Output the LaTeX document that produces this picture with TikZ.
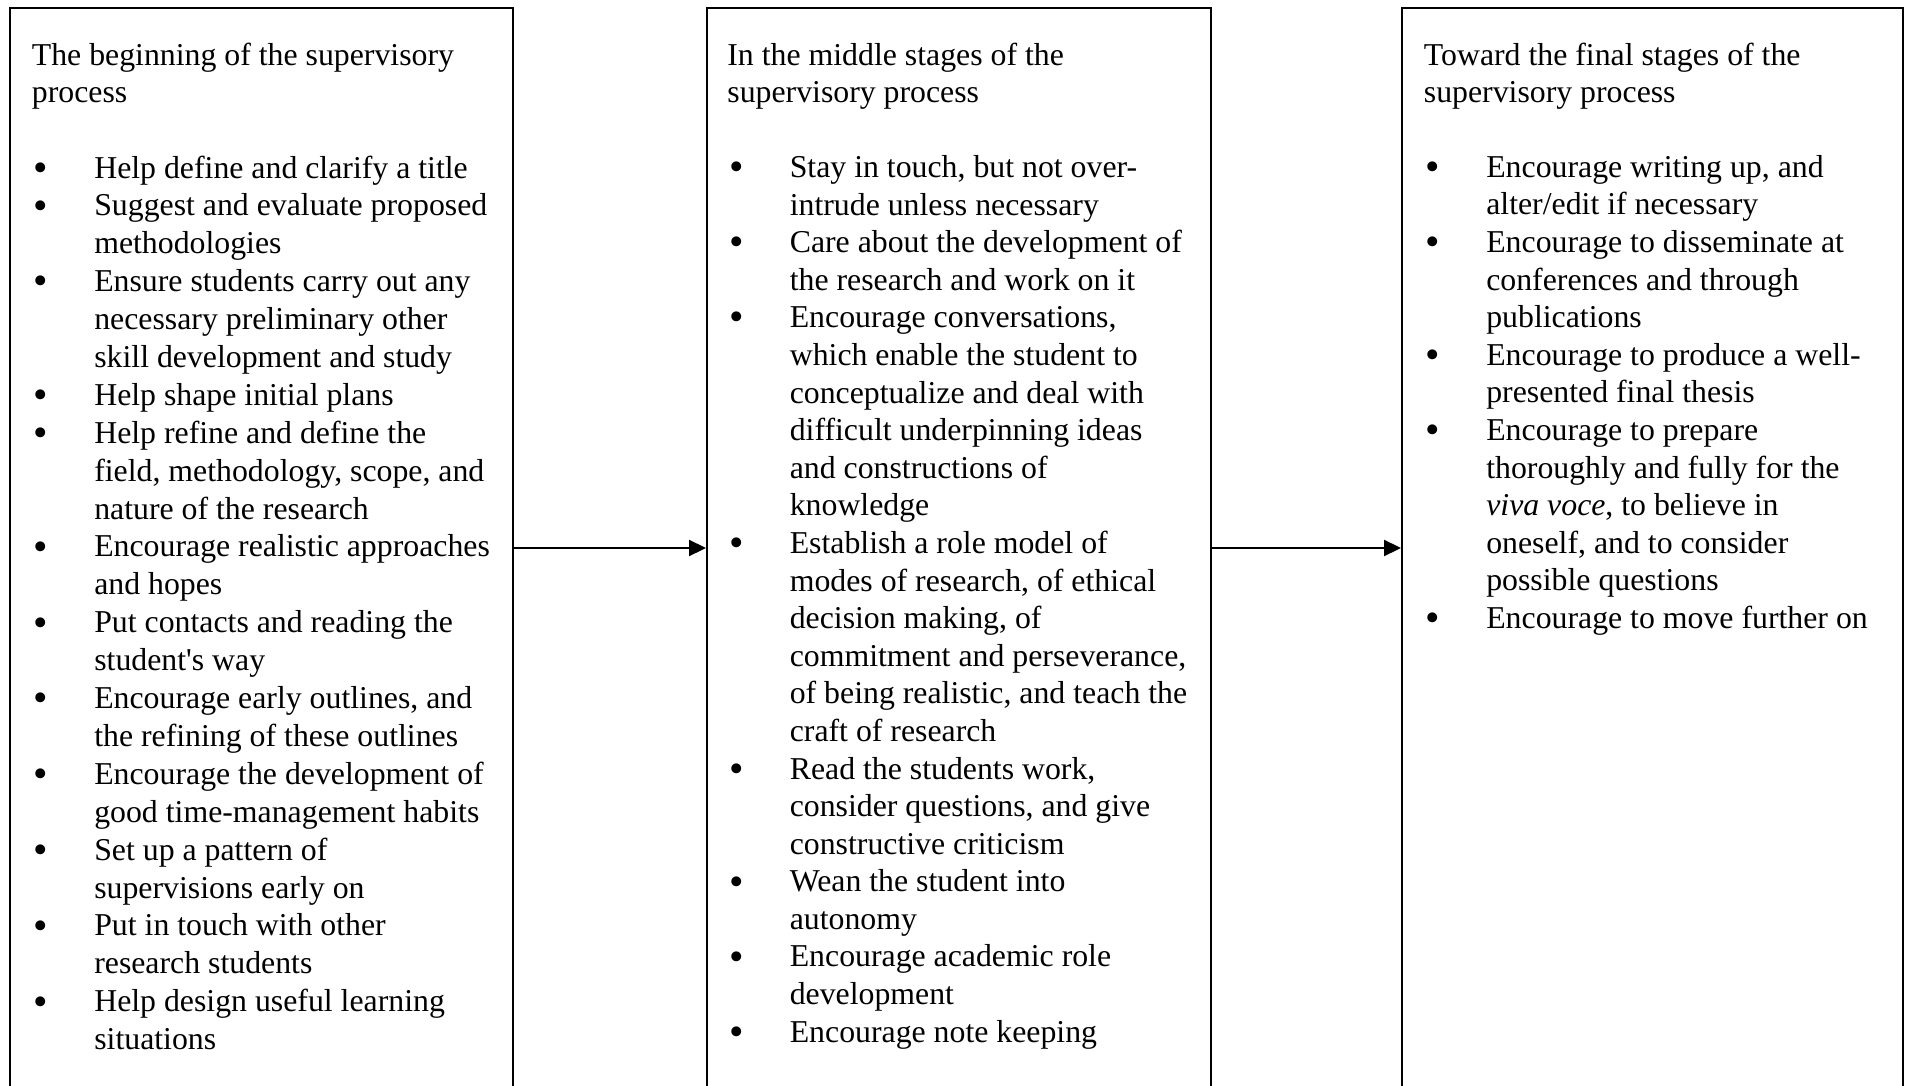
\documentclass[tikz,border=0pt]{standalone}
\usepackage{fontspec}
\usepackage{graphicx}
\setmainfont{Liberation Serif}
\newfontfamily\rawserif{Liberation Serif}
\usetikzlibrary{arrows.meta}
\newcommand{\bl}{\makebox[31.2pt][l]{\hspace{0.8pt}\raisebox{-1.6pt}{\scalebox{1.3}{\textbullet}}}}
\newcommand{\cl}{\hspace*{31.2pt}}
\newcommand{\apos}{{\rawserif'}}
\tikzset{
  stagebox/.style={draw=black, line width=1pt, inner sep=0pt},
  stagetxt/.style={anchor=north west, inner sep=0pt, align=left, text=black},
  flow/.style={-{Triangle[length=8.5pt,width=8pt]}, line width=1.1pt}
}
\begin{document}
\begin{tikzpicture}[x=0.5pt,y=-0.5pt]
\clip (0,0) rectangle (1907,1086);
\fill[white] (0,0) rectangle (1907,1086);
% boxes (bottom edge lies outside the picture)
\node[stagebox, minimum width=503pt*0.5, minimum height=1080pt*0.5] (b1) at (261.5,548) {};
\node[stagebox, minimum width=504pt*0.5, minimum height=1080pt*0.5] (b2) at (959,548) {};
\node[stagebox, minimum width=501pt*0.5, minimum height=1080pt*0.5] (b3) at (1652.5,548) {};
% texts
\node[stagetxt, font=\fontsize{15.9}{18.95}\selectfont] (t1) at (31.5,43) {%
The beginning of the supervisory\\[-0.6pt]
process\\[18.8pt]
\bl Help define and clarify a title\\
\bl Suggest and evaluate proposed\\
\cl methodologies\\
\bl Ensure students carry out any\\
\cl necessary preliminary other\\
\cl skill development and study\\
\bl Help shape initial plans\\
\bl Help refine and define the\\
\cl field, methodology, scope, and\\
\cl nature of the research\\
\bl Encourage realistic approaches\\
\cl and hopes\\
\bl Put contacts and reading the\\
\cl student\apos s way\\
\bl Encourage early outlines, and\\
\cl the refining of these outlines\\
\bl Encourage the development of\\
\cl good time-management habits\\
\bl Set up a pattern of\\
\cl supervisions early on\\
\bl Put in touch with other\\
\cl research students\\
\bl Help design useful learning\\
\cl situations};
\node[stagetxt, font=\fontsize{15.9}{18.8}\selectfont] (t2) at (727,43) {%
In the middle stages of the\\[-0.5pt]
supervisory process\\[18.7pt]
\bl Stay in touch, but not over-\\
\cl intrude unless necessary\\
\bl Care about the development of\\
\cl the research and work on it\\
\bl Encourage conversations,\\
\cl which enable the student to\\
\cl conceptualize and deal with\\
\cl difficult underpinning ideas\\
\cl and constructions of\\
\cl knowledge\\
\bl Establish a role model of\\
\cl modes of research, of ethical\\
\cl decision making, of\\
\cl commitment and perseverance,\\
\cl of being realistic, and teach the\\
\cl craft of research\\
\bl Read the students work,\\
\cl consider questions, and give\\
\cl constructive criticism\\
\bl Wean the student into\\
\cl autonomy\\
\bl Encourage academic role\\
\cl development\\
\bl Encourage note keeping};
\node[stagetxt, font=\fontsize{15.9}{18.8}\selectfont] (t3) at (1423.5,43) {%
Toward the final stages of the\\[-0.5pt]
supervisory process\\[18.7pt]
\bl Encourage writing up, and\\
\cl alter/edit if necessary\\
\bl Encourage to disseminate at\\
\cl conferences and through\\
\cl publications\\
\bl Encourage to produce a well-\\
\cl presented final thesis\\
\bl Encourage to prepare\\
\cl thoroughly and fully for the\\
\cl \textit{viva voce}, to believe in\\
\cl oneself, and to consider\\
\cl possible questions\\
\bl Encourage to move further on};
% connectors
\draw[flow] (b1.east) -- (b2.west);
\draw[flow] (b2.east) -- (b3.west);
\end{tikzpicture}
\end{document}
